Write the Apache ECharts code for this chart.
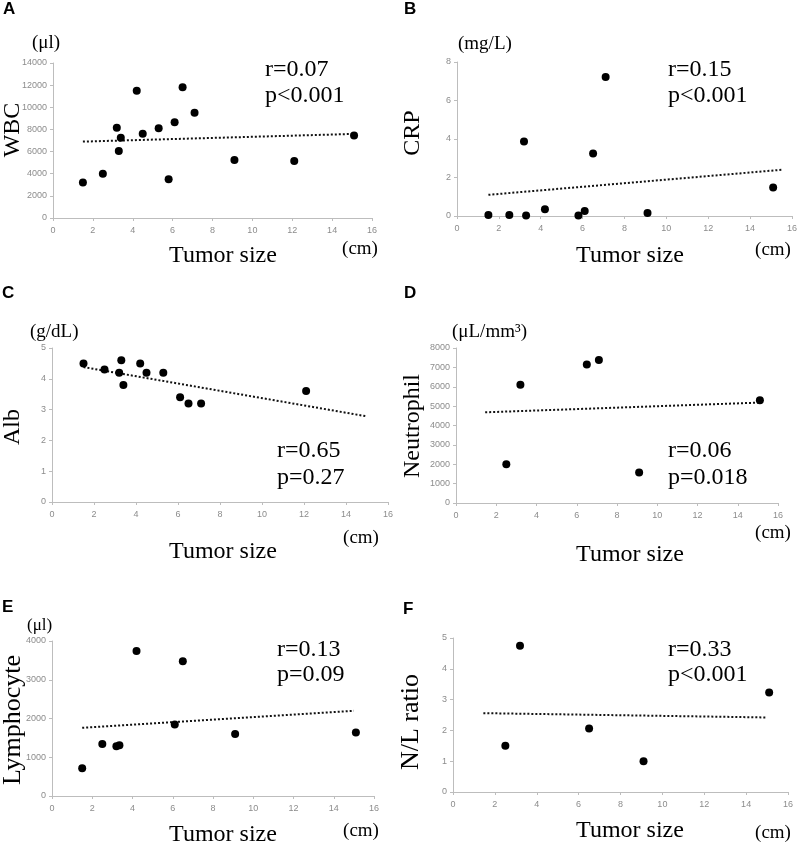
<!DOCTYPE html>
<html>
<head>
<meta charset="utf-8">
<script src="https://cdn.jsdelivr.net/npm/echarts@6/dist/echarts.min.js"></script>
<style>html,body{margin:0;padding:0;background:#fff}#c{width:800px;height:845px}</style>
</head>
<body>
<div id="c"></div>
<script>
// ---- Data ----
const xTicks = [0, 2, 4, 6, 8, 10, 12, 14, 16];

const sizeWBC = [1.5, 2.5, 3.2, 3.4, 3.3, 4.2, 4.5, 5.3, 5.8, 6.1, 6.5, 7.1, 9.1, 12.1, 15.1];
const wbc     = [3200, 4000, 8150, 7250, 6050, 11500, 7600, 8100, 3500, 8650, 11800, 9500, 5250, 5150, 7450];
const trendWBC = [[1.5, 6900], [15.2, 7600]];

const sizeCRP = [1.5, 2.5, 3.2, 3.3, 4.2, 5.8, 6.1, 6.5, 7.1, 9.1, 15.1];
const crp     = [0.05, 0.05, 3.87, 0.02, 0.35, 0.02, 0.26, 3.25, 7.22, 0.16, 1.48];
const trendCRP = [[1.5, 1.1], [15.5, 2.4]];

const sizeAlb = [1.5, 2.5, 3.2, 3.3, 3.4, 4.2, 4.5, 5.3, 6.1, 6.5, 7.1, 12.1];
const alb     = [4.5, 4.3, 4.2, 4.6, 3.8, 4.5, 4.2, 4.2, 3.4, 3.2, 3.2, 3.6];
const trendAlb = [[1.5, 4.38], [15.0, 2.78]];

const sizeNeu = [2.5, 3.2, 6.5, 7.1, 9.1, 15.1];
const neutrophil = [2000, 6100, 7150, 7380, 1580, 5300];
const trendNeu = [[1.45, 4680], [15.0, 5180]];

const sizeLym = [1.5, 2.5, 3.2, 3.35, 4.2, 6.1, 6.5, 9.1, 15.1];
const lymphocyte = [715, 1345, 1285, 1310, 3740, 1845, 3480, 1600, 1640];
const trendLym = [[1.5, 1760], [15.0, 2200]];

const sizeNL = [2.5, 3.2, 6.5, 9.1, 15.1];
const nlRatio = [1.5, 4.75, 2.06, 1.0, 3.23];
const trendNL = [[1.45, 2.56], [15.0, 2.42]];

const yRanges = [[0, 14000, 2000], [0, 8, 2], [0, 5, 1], [0, 8000, 1000], [0, 4000, 1000], [0, 5, 1]];

// ---- Layout ----
const grids = [
  {left: 53, top: 63, width: 319, height: 155},
  {left: 457, top: 62, width: 336, height: 154},
  {left: 52, top: 348, width: 336, height: 154},
  {left: 456, top: 348, width: 322, height: 155},
  {left: 52, top: 641, width: 322, height: 155},
  {left: 453, top: 638, width: 335, height: 154}
];

const pairs = [
  [sizeWBC, wbc, trendWBC],
  [sizeCRP, crp, trendCRP],
  [sizeAlb, alb, trendAlb],
  [sizeNeu, neutrophil, trendNeu],
  [sizeLym, lymphocyte, trendLym],
  [sizeNL, nlRatio, trendNL]
];

const axisGray = '#bdbdbd';
const labelGray = '#8c8c8c';
const plain = v => String(v);

const xAxes = grids.map((g, i) => ({
  type: 'value', gridIndex: i, min: xTicks[0], max: xTicks[xTicks.length - 1], interval: 2,
  axisLine: {show: true, lineStyle: {color: axisGray, width: 1}},
  axisTick: {show: true, length: 3, lineStyle: {color: axisGray}},
  axisLabel: {color: labelGray, fontSize: 9, fontFamily: 'Liberation Sans', margin: 8, formatter: plain},
  splitLine: {show: false}
}));
const yAxes = grids.map((g, i) => ({
  type: 'value', gridIndex: i, min: yRanges[i][0], max: yRanges[i][1], interval: yRanges[i][2],
  axisLine: {show: true, lineStyle: {color: axisGray, width: 1}},
  axisTick: {show: true, length: 3, lineStyle: {color: axisGray}},
  axisLabel: {color: labelGray, fontSize: 9, fontFamily: 'Liberation Sans', margin: 6, formatter: plain},
  splitLine: {show: false}
}));

const series = [];
pairs.forEach((p, i) => {
  series.push({
    type: 'line', xAxisIndex: i, yAxisIndex: i, data: p[2], symbol: 'none', silent: true,
    lineStyle: {color: '#111', width: 2, type: [2, 2]}, z: 2
  });
  series.push({
    type: 'scatter', xAxisIndex: i, yAxisIndex: i,
    data: p[0].map((x, k) => [x, p[1][k]]),
    symbol: 'circle', symbolSize: 8, itemStyle: {color: '#000', opacity: 1}, z: 3
  });
});

const serif = '"Liberation Serif", "Times New Roman", serif';
function txt(text, x, y, size, opts) {
  opts = opts || {};
  return {
    type: 'text', x: x, y: y, rotation: opts.rot || 0, silent: true,
    style: {
      text: text, fill: '#000', font: (opts.bold ? 'bold ' : '') + size + 'px ' + (opts.family || serif),
      textAlign: opts.align || 'center', textVerticalAlign: 'middle'
    }
  };
}
const sans = '"Liberation Sans", Arial, sans-serif';
const graphics = [
  // panel letters
  txt('A', 3, 9, 17, {bold: true, family: sans, align: 'left'}),
  txt('B', 404, 9, 17, {bold: true, family: sans, align: 'left'}),
  txt('C', 2, 293, 17, {bold: true, family: sans, align: 'left'}),
  txt('D', 404, 293, 17, {bold: true, family: sans, align: 'left'}),
  txt('E', 2, 607, 17, {bold: true, family: sans, align: 'left'}),
  txt('F', 403, 609, 17, {bold: true, family: sans, align: 'left'}),
  // units
  txt('(μl)', 32, 43, 19, {align: 'left'}),
  txt('(mg/L)', 458, 44, 19, {align: 'left'}),
  txt('(g/dL)', 30, 332, 19, {align: 'left'}),
  txt('(μL/mm³)', 452, 332, 19, {align: 'left'}),
  txt('(μl)', 27, 626, 17, {align: 'left'}),
  // y titles
  txt('WBC', 13, 130, 24, {rot: Math.PI / 2}),
  txt('CRP', 413, 133, 24, {rot: Math.PI / 2}),
  txt('Alb', 13, 427, 24, {rot: Math.PI / 2}),
  txt('Neutrophil', 413, 426, 24, {rot: Math.PI / 2}),
  txt('Lymphocyte', 13, 720, 26, {rot: Math.PI / 2}),
  txt('N/L ratio', 411, 722, 26, {rot: Math.PI / 2}),
  // x titles
  txt('Tumor size', 223, 256, 24), txt('(cm)', 360, 249, 19),
  txt('Tumor size', 630, 256, 24), txt('(cm)', 773, 250, 19),
  txt('Tumor size', 223, 552, 24), txt('(cm)', 361, 538, 19),
  txt('Tumor size', 630, 555, 24), txt('(cm)', 773, 533, 19),
  txt('Tumor size', 223, 835, 24), txt('(cm)', 361, 831, 19),
  txt('Tumor size', 630, 831, 24), txt('(cm)', 773, 833, 19),
  // r / p
  txt('r=0.07', 265, 70, 24, {align: 'left'}), txt('p<0.001', 265, 96, 24, {align: 'left'}),
  txt('r=0.15', 668, 70, 24, {align: 'left'}), txt('p<0.001', 668, 96, 24, {align: 'left'}),
  txt('r=0.65', 277, 451, 24, {align: 'left'}), txt('p=0.27', 277, 478, 24, {align: 'left'}),
  txt('r=0.06', 668, 451, 24, {align: 'left'}), txt('p=0.018', 668, 478, 24, {align: 'left'}),
  txt('r=0.13', 277, 650, 24, {align: 'left'}), txt('p=0.09', 277, 675, 24, {align: 'left'}),
  txt('r=0.33', 668, 650, 24, {align: 'left'}), txt('p<0.001', 668, 675, 24, {align: 'left'})
];

const chart = echarts.init(document.getElementById('c'), null, {renderer: 'canvas'});
chart.setOption({
  animation: false,
  backgroundColor: '#fff',
  grid: grids,
  xAxis: xAxes,
  yAxis: yAxes,
  series: series,
  graphic: graphics
});
</script>
</body>
</html>
